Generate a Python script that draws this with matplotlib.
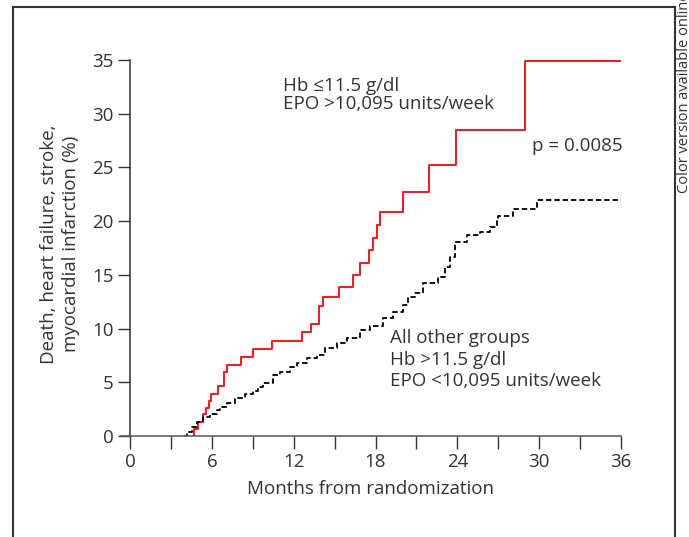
import matplotlib
matplotlib.use("Agg")
import matplotlib.pyplot as plt
from matplotlib.lines import Line2D

# Cumulative event curves (months, %)
red_months = [4.69, 4.69, 4.99, 5.33, 5.57, 5.82, 5.96, 6.43, 6.87, 7.09, 8.11,
              9.04, 10.39, 12.63, 13.25, 13.88, 14.17, 15.3, 16.33, 16.86,
              17.55, 17.79, 18.08, 18.33, 20.04, 21.95, 23.9, 28.96, 36.0]
red_pct = [0.0, 0.62, 1.27, 2.02, 2.58, 3.29, 3.91, 4.62, 5.96, 6.64, 7.36,
           8.13, 8.88, 9.65, 10.46, 12.1, 12.97, 13.9, 14.99, 16.1,
           17.3, 18.47, 19.65, 20.83, 22.69, 25.23, 28.49, 34.95, 34.95]

other_months = [3.96, 4.15, 4.52, 4.89, 5.38, 5.87, 6.35, 6.6, 7.09, 7.7, 8.43,
                9.04, 9.41, 9.77, 10.5, 11.0, 11.73, 12.22, 12.95, 13.69, 14.3,
                15.15, 15.89, 16.86, 17.6, 18.57, 19.3, 20.04, 20.4, 20.89, 21.5,
                22.6, 23.09, 23.46, 23.83, 24.68, 25.66, 26.39, 26.88, 27.0,
                28.1, 29.82, 36.0]
other_pct = [0.0, 0.4, 0.87, 1.33, 1.8, 2.05, 2.42, 2.73, 3.04, 3.51, 3.91,
             4.19, 4.59, 4.9, 5.68, 5.99, 6.4, 6.83, 7.23, 7.54, 8.17,
             8.63, 9.09, 9.87, 10.2, 10.96, 11.58, 12.2, 12.97, 13.28, 14.27,
             14.83, 15.76, 16.7, 18.09, 18.72, 19.02, 19.49, 20.11, 20.48,
             21.11, 21.97, 21.97]

x_ticks = [0, 6, 12, 18, 24, 30, 36]
y_ticks = [0, 5, 10, 15, 20, 25, 30, 35]

plt.rcParams["font.family"] = ["Open Sans", "DejaVu Sans"]
text_color = "#333333"
axis_color = "#333333"
fs = 13.5

fig = plt.figure(figsize=(6.89, 5.37), dpi=100)
ax = fig.add_axes([120.5 / 689, 101 / 537, 500.5 / 689, 376 / 537])

ax.plot(red_months, red_pct, drawstyle="steps-post", color="#e8212e", lw=1.5)
ax.plot(other_months, other_pct, drawstyle="steps-post", color="black",
        lw=1.3, linestyle=(0, (3, 1.6)))

ax.set_xlim(-0.7, 36)
ax.set_ylim(0, 35)

for s in ["top", "right"]:
  ax.spines[s].set_visible(False)
ax.spines["left"].set_position(("data", 0))
ax.spines["left"].set_color(axis_color)
ax.spines["bottom"].set_color("#555555")
ax.spines["left"].set_linewidth(1.1)
ax.spines["bottom"].set_linewidth(1.1)

ax.set_xticks(x_ticks)
ax.set_xticks(range(3, 36, 6), minor=True)
ax.set_yticks(y_ticks)
ax.tick_params(axis="both", which="both", direction="out", length=9,
               width=1.0, color=axis_color, labelsize=fs, labelcolor=text_color)
ax.tick_params(axis="x", pad=3)
ax.tick_params(axis="y", pad=3)

ax.set_xlabel("Months from randomization", fontsize=fs, color=text_color, labelpad=7)
fig.text(60 / 689, 1 - 244 / 537, "Death, heart failure, stroke,\nmyocardial infarction (%)",
         rotation=90, ha="center", va="center", fontsize=fs, color=text_color,
         multialignment="center", linespacing=1.25)

ax.text(11.2, 31.75, "Hb \u226411.5 g/dl\nEPO >10,095 units/week", fontsize=fs,
        color=text_color, va="center", ha="left", linespacing=1.0)
ax.text(29.5, 27.0, "p = 0.0085", fontsize=fs, color=text_color,
        va="center", ha="left")
ax.text(19.06, 7.1, "All other groups\nHb >11.5 g/dl\nEPO <10,095 units/week",
        fontsize=fs, color=text_color, va="center", ha="left", linespacing=1.25)

# Frame around the figure (open at the bottom)
lx, rx, ty = 13 / 689, 675 / 689, 1 - 6.5 / 537
for xs, ys in [([lx, lx], [0, ty]), ([lx, rx], [ty, ty]), ([rx, rx], [ty, 0])]:
  fig.add_artist(Line2D(xs, ys, color="#333333", lw=1.5, transform=fig.transFigure,
                        solid_capstyle="projecting"))

fig.text(684 / 689, 1 - 193 / 537, "Color version available online", rotation=90,
         ha="center", va="bottom", fontsize=10.5, color=text_color)

fig.savefig("out.png", dpi=100)
plt.close(fig)
